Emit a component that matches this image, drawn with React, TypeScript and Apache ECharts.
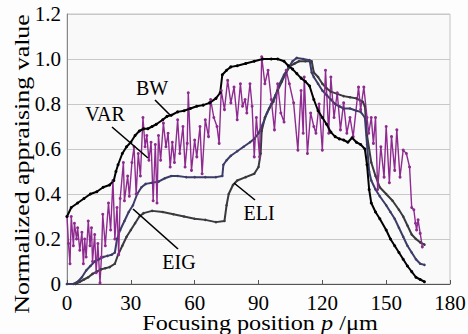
import React, { useEffect, useRef } from "react";
import * as echarts from "echarts";

const xTicks = [0, 30, 60, 90, 120, 150, 180];
const yTicks = [0, 0.2, 0.4, 0.6, 0.8, 1.0, 1.2];

const bwData: [number, number][] = [
  [0, 0.3], [2, 0.34], [5, 0.36], [8, 0.38], [11, 0.4], [14, 0.41], [17, 0.43], [20, 0.44], [22, 0.46],
  [23, 0.5], [24, 0.53], [26, 0.58], [28, 0.61], [30, 0.63], [32, 0.66], [34, 0.68], [36, 0.69], [38, 0.69],
  [40, 0.7], [42, 0.71], [45, 0.73], [47, 0.745], [49, 0.75], [52, 0.765], [55, 0.77], [58, 0.78], [61, 0.79],
  [64, 0.795], [67, 0.805], [70, 0.825], [72, 0.85], [73, 0.93], [75, 0.95], [77, 0.965], [80, 0.97], [84, 0.98],
  [88, 0.99], [92, 1.0], [96, 1.0], [99, 1.0], [102, 0.99], [104, 0.97], [106, 0.955], [108, 0.935], [110, 0.915],
  [112, 0.9], [114, 0.88], [116, 0.82], [118, 0.77], [120, 0.74], [122, 0.71], [124, 0.675], [126, 0.655],
  [128, 0.645], [130, 0.64], [132, 0.63], [134, 0.65], [136, 0.63], [138, 0.62], [140, 0.6], [141, 0.53],
  [142, 0.42], [143, 0.36], [145, 0.32], [147, 0.29], [150, 0.24], [152, 0.2], [154, 0.17], [156, 0.14],
  [158, 0.11], [160, 0.08], [162, 0.055], [164, 0.03], [166, 0.02], [168, 0.01],
];

const eigData: [number, number][] = [
  [0, 0], [3, 0], [5, 0.01], [7, 0.03], [9, 0.06], [11, 0.08], [13, 0.1], [15, 0.11], [17, 0.12], [19, 0.125],
  [21, 0.13], [22.5, 0.14], [23.5, 0.2], [25, 0.24], [27, 0.28], [29, 0.32], [31, 0.35], [33, 0.4], [35, 0.43],
  [37, 0.445], [40, 0.45], [43, 0.455], [46, 0.47], [49, 0.48], [52, 0.48], [56, 0.475], [60, 0.475], [65, 0.475],
  [70, 0.475], [73, 0.48], [73.5, 0.53], [75, 0.55], [77, 0.57], [80, 0.59], [83, 0.61], [86, 0.63], [88, 0.645],
  [90, 0.67], [92, 0.71], [94, 0.76], [96, 0.8], [98, 0.84], [100, 0.89], [102, 0.93], [104, 0.96], [106, 0.99],
  [108, 1.005], [111, 1.0], [114, 0.995], [115, 0.94], [116, 0.92], [118, 0.89], [120, 0.86], [122, 0.84],
  [124, 0.82], [126, 0.8], [128, 0.79], [130, 0.78], [133, 0.78], [136, 0.77], [138, 0.765], [140, 0.74],
  [141, 0.62], [142, 0.5], [143, 0.46], [145, 0.42], [147, 0.39], [150, 0.35], [152, 0.32], [154, 0.29],
  [156, 0.25], [158, 0.21], [160, 0.17], [162, 0.14], [164, 0.11], [166, 0.09], [168, 0.085],
];

const eliData: [number, number][] = [
  [0, 0], [4, 0], [6, 0.01], [8, 0.02], [10, 0.03], [12, 0.045], [14, 0.055], [16, 0.065], [18, 0.07],
  [20, 0.075], [22.5, 0.09], [24, 0.13], [26, 0.17], [28, 0.21], [30, 0.24], [32, 0.27], [34, 0.3], [36, 0.315],
  [40, 0.325], [45, 0.32], [50, 0.31], [55, 0.3], [60, 0.29], [65, 0.285], [70, 0.275], [74, 0.28], [75, 0.35],
  [76, 0.4], [78, 0.44], [80, 0.46], [84, 0.475], [88, 0.49], [90, 0.52], [91, 0.58], [91.5, 0.68], [93, 0.74],
  [95, 0.78], [97, 0.81], [99, 0.86], [101, 0.9], [103, 0.94], [105, 0.97], [107, 0.98], [109, 0.99], [112, 0.99],
  [115, 0.99], [116, 0.94], [118, 0.92], [120, 0.89], [122, 0.87], [124, 0.855], [127, 0.845], [130, 0.835],
  [133, 0.83], [136, 0.825], [139, 0.81], [140, 0.79], [141, 0.66], [143, 0.54], [145, 0.48], [147, 0.43],
  [150, 0.4], [153, 0.37], [156, 0.33], [158, 0.3], [160, 0.26], [162, 0.22], [164, 0.2], [166, 0.185],
  [168, 0.175],
];

const varData: [number, number][] = [
  [0, 0.3], [0.7, 0.18], [1.4, 0.09], [2, 0.3], [3, 0.17], [3.5, 0.27], [4.5, 0.2], [5, 0.25], [6, 0.15],
  [7, 0.23], [7.7, 0.09], [8.3, 0.2], [9, 0.12], [10, 0.28], [10.8, 0.17], [11.5, 0.25], [12, 0.1], [13, 0.22],
  [13.7, 0.05], [14.5, 0.18], [15.5, 0.005], [16.2, 0.12], [16.8, 0.31], [18, 0.17], [19.5, 0.36], [20.5, 0.24],
  [21.6, 0.46], [22.5, 0.2], [23.5, 0.34], [24.3, 0.13], [25, 0.38], [26.5, 0.54], [27, 0.37], [28.5, 0.48],
  [29.3, 0.39], [30.5, 0.54], [31.5, 0.61], [32.5, 0.4], [33.5, 0.58], [34.5, 0.48], [35.7, 0.74], [36.7, 0.61],
  [37.5, 0.66], [38.5, 0.55], [39.5, 0.63], [40.5, 0.37], [41.5, 0.62], [42.3, 0.36], [43, 0.66], [44, 0.55],
  [45.3, 0.715], [46.5, 0.61], [47.5, 0.67], [48.5, 0.52], [49.5, 0.63], [50.5, 0.54], [52, 0.73], [53, 0.58],
  [54.5, 0.7], [55.5, 0.52], [56.5, 0.625], [57, 0.85], [58.5, 0.505], [60, 0.64], [61, 0.565], [62.5, 0.7],
  [63.5, 0.49], [65, 0.73], [66.5, 0.655], [67.5, 0.82], [69, 0.74], [70.5, 0.7], [71.5, 0.625], [72.5, 0.86],
  [74, 0.775], [75.5, 0.905], [77, 0.805], [78.5, 0.875], [80, 0.73], [81.5, 0.89], [82.5, 0.79], [83.7, 0.82],
  [84.5, 0.76], [86, 0.89], [87, 0.79], [88, 0.565], [89, 0.74], [90.5, 0.565], [91.5, 1.01], [93, 0.89],
  [94.5, 0.95], [96, 0.82], [97.5, 0.685], [99, 0.89], [100.5, 0.76], [102, 0.72], [103, 0.95], [104.5, 0.89],
  [106.5, 0.805], [108.5, 0.595], [110, 0.86], [111, 0.67], [111.5, 0.92], [113, 0.58], [114.5, 0.76],
  [116, 0.7], [117, 0.67], [118.5, 0.8], [120, 0.595], [121.5, 0.95], [123, 0.67], [124, 0.92], [125.5, 0.74],
  [127, 0.85], [128.5, 0.685], [130, 0.805], [131.5, 0.67], [133, 0.74], [134.5, 0.655], [137, 0.875],
  [138, 0.775], [139.5, 0.875], [141, 0.74], [141.8, 0.67], [143, 0.74], [144, 0.625], [145, 0.74],
  [146, 0.42], [147.5, 0.61], [149, 0.475], [150, 0.7], [151.5, 0.45], [152.5, 0.655], [154, 0.505],
  [155, 0.685], [156.5, 0.475], [158, 0.595], [159.5, 0.58], [161, 0.52], [162, 0.34], [163, 0.33],
  [163.8, 0.27], [164.3, 0.24], [165, 0.285], [166, 0.225], [167, 0.165],
];

const FONT = "Liberation Serif";

export default function App() {
  const ref = useRef<HTMLDivElement>(null);
  useEffect(() => {
    if (!ref.current) return;
    const chart = echarts.init(ref.current, null, { renderer: "svg" });
    const mk = (name: string, data: [number, number][], color: string, width: number, size: number) => ({
      name,
      type: "line",
      data,
      symbol: "circle",
      symbolSize: size,
      showSymbol: true,
      itemStyle: { color },
      lineStyle: { color, width },
    });
    const ann = (text: string, x: number, y: number) => ({
      type: "text",
      x,
      y,
      style: { text, fill: "#000", fontFamily: FONT, fontSize: 20, align: "center", verticalAlign: "middle" },
      z: 100,
    });
    const ln = (x1: number, y1: number, x2: number, y2: number) => ({
      type: "line",
      shape: { x1, y1, x2, y2 },
      style: { stroke: "#000", lineWidth: 1.6 },
      z: 100,
    });
    chart.setOption({
      animation: false,
      backgroundColor: "#fdfdfd",
      grid: {
        left: 67,
        right: 18,
        top: 14,
        bottom: 50,
        outerBoundsMode: "none",
        containLabel: false,
        show: true,
        borderColor: "#c4c4c4",
        borderWidth: 1,
        backgroundColor: "#f9f9f9",
      },
      xAxis: {
        type: "value",
        min: xTicks[0],
        max: xTicks[xTicks.length - 1],
        interval: 30,
        axisLine: { lineStyle: { color: "#555", width: 1 } },
        axisTick: { inside: true, length: 4, lineStyle: { color: "#555" } },
        axisLabel: { fontFamily: FONT, fontSize: 21, color: "#000", margin: 8 },
        splitLine: { show: false },
      },
      yAxis: {
        type: "value",
        min: yTicks[0],
        max: yTicks[yTicks.length - 1],
        interval: 0.2,
        axisLine: { show: true, lineStyle: { color: "#888", width: 1 } },
        axisTick: { show: false },
        axisLabel: {
          fontFamily: FONT,
          fontSize: 21,
          color: "#000",
          margin: 6,
          formatter: (v: number) => (v === 0 ? "0" : v.toFixed(1)),
        },
        splitLine: { show: true, lineStyle: { color: "#c8c8c8", width: 1 } },
      },
      graphic: [
        {
          type: "text",
          x: 22,
          y: 164,
          rotation: Math.PI / 2,
          scaleX: 1.18,
          style: {
            text: "Normalized appraising value",
            fill: "#000",
            fontFamily: FONT,
            fontSize: 22,
            align: "center",
            verticalAlign: "middle",
          },
        },
        {
          type: "text",
          x: 260,
          y: 322,
          scaleX: 1.1,
          style: {
            text: "Focusing position {i|p} /μm",
            fill: "#000",
            fontFamily: FONT,
            fontSize: 22,
            align: "center",
            verticalAlign: "middle",
            rich: { i: { fontFamily: FONT, fontSize: 22, fontStyle: "italic", fill: "#000" } },
          },
        },
        ann("BW", 152, 88),
        ln(155, 100, 170, 115),
        ann("VAR", 105, 114),
        ln(112, 127, 148, 158),
        ann("EIG", 179, 262),
        ln(133, 209, 178, 249),
        ann("ELI", 259, 213),
        ln(234, 183, 255, 200),
      ],
      series: [
        mk("ELI", eliData, "#3a3a3e", 2, 2.5),
        mk("EIG", eigData, "#3c3c68", 2, 2.5),
        mk("VAR", varData, "#8e2a90", 1.4, 3),
        mk("BW", bwData, "#000000", 2, 3),
      ],
    });
    return () => chart.dispose();
  }, []);
  return <div ref={ref} style={{ position: "fixed", left: 0, top: 0, width: 468, height: 334 }} />;
}
